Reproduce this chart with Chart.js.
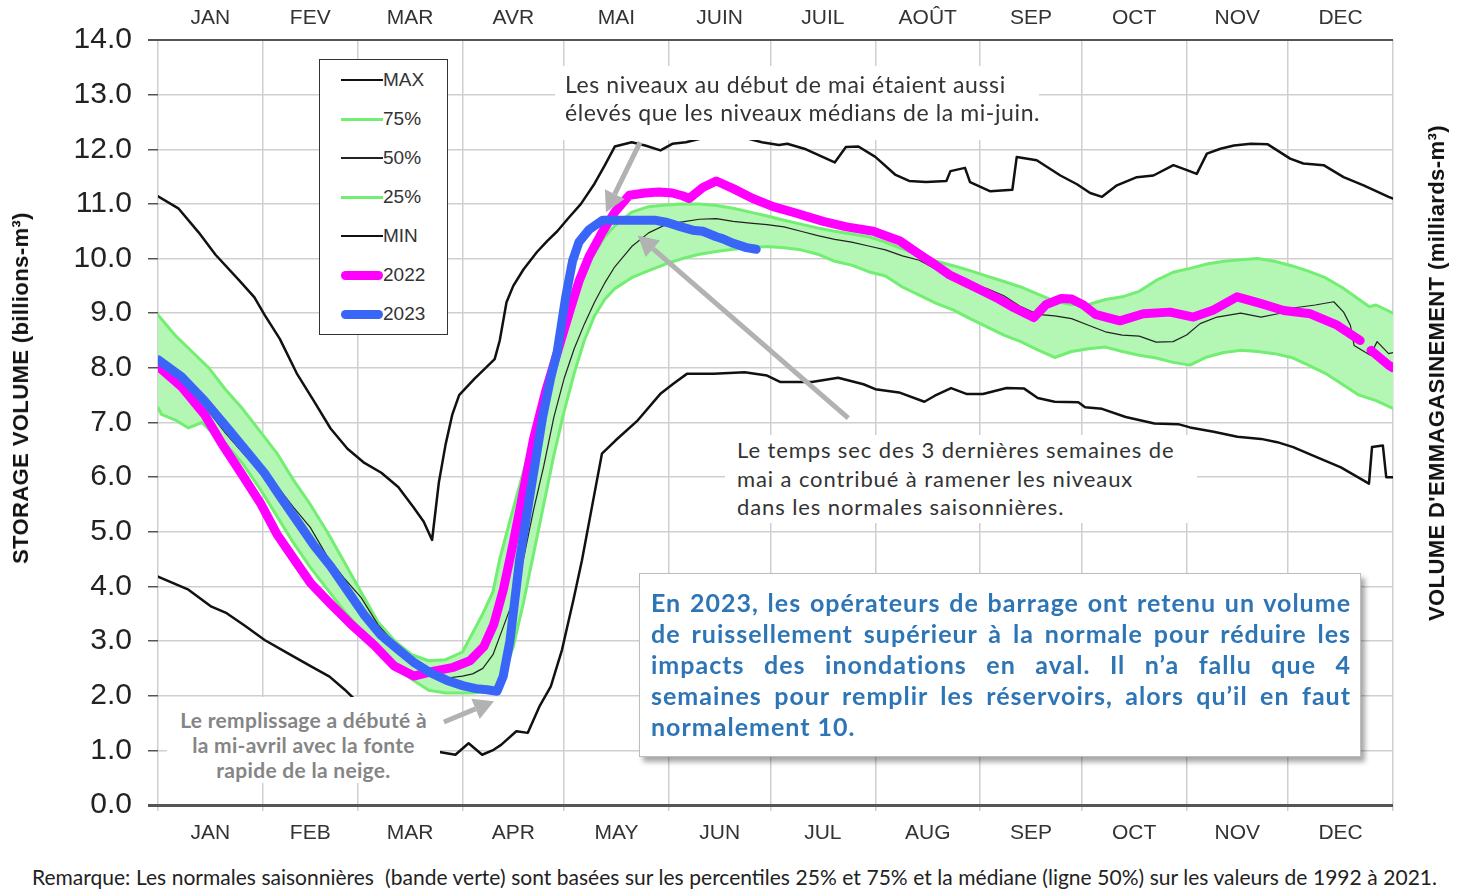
<!DOCTYPE html>
<html>
<head>
<meta charset="utf-8">
<script src="https://cdn.jsdelivr.net/npm/chart.js@4.4.1/dist/chart.umd.min.js"></script>
<style>
  body { margin: 0; background: #fff; }
  #wrap { position: relative; width: 1466px; height: 890px; overflow: hidden; font-family: 'Liberation Sans', Arial, sans-serif; }
  #chart { position: absolute; left: 0; top: 0; }
  .note { position: absolute; background: #fff; font-family: Lato, sans-serif; box-sizing: border-box; }
  .note div { white-space: nowrap; }
  .just { text-align: justify; text-align-last: justify; }
  .vt { position: absolute; transform: translate(-50%, -50%) rotate(-90deg); white-space: nowrap; font-weight: bold; font-size: 22px; letter-spacing: 0.4px; color: #111; }
  #legend { position: absolute; left: 319px; top: 59px; width: 129px; height: 276px; border: 1.5px solid #333; background: #fff; box-sizing: border-box; }
  .lg-row { position: absolute; left: 0; height: 0; }
  .lg-line { position: absolute; left: 21px; width: 42px; }
  .lg-text { position: absolute; left: 63px; top: -11px; font-size: 19px; color: #333; line-height: 22px; }
</style>
</head>
<body>
<div id="wrap">
  <canvas id="chart" width="1466" height="890"></canvas>

  <div class="vt" style="left:21px; top:388px;">STORAGE VOLUME (billions-m³)</div>
  <div class="vt" style="left:1437px; top:373px;">VOLUME D'EMMAGASINEMENT (milliards-m³)</div>

  <div id="legend"></div>

  <div class="note" style="left:555px; top:66px; width:484px; height:74px; padding:4px 0 0 10px; font-size:23px; letter-spacing:0.6px; line-height:28px; color:#333;">
    <div>Les niveaux au début de mai étaient aussi</div>
    <div>élevés que les niveaux médians de la mi-juin.</div>
  </div>

  <div class="note" style="left:725px; top:435px; width:472px; height:88px; padding:1px 0 0 12px; font-size:22px; letter-spacing:0.9px; line-height:28.5px; color:#333;">
    <div>Le temps sec des 3 dernières semaines de</div>
    <div>mai a contribué à ramener les niveaux</div>
    <div>dans les normales saisonnières.</div>
  </div>

  <div class="note" style="left:167px; top:697px; width:273px; height:86px; padding:10px 0 0 0; font-size:21px; letter-spacing:0.3px; line-height:25px; color:#858585; font-weight:bold; text-align:center;">
    <div>Le remplissage a débuté à</div>
    <div>la mi-avril avec la fonte</div>
    <div>rapide de la neige.</div>
  </div>

  <div class="note" style="left:639px; top:573px; width:722px; height:184px; padding:13px 0 0 11px; border:1px solid #bdbdbd; box-shadow:4px 5px 5px rgba(0,0,0,0.35); font-size:25px; letter-spacing:1px; line-height:31px; color:#2e75b6; font-weight:bold;">
    <div class="just" style="width:700px;">En 2023, les opérateurs de barrage ont retenu un volume</div>
    <div class="just" style="width:700px;">de ruissellement supérieur à la normale pour réduire les</div>
    <div class="just" style="width:700px;">impacts des inondations en aval. Il n’a fallu que 4</div>
    <div class="just" style="width:700px;">semaines pour remplir les réservoirs, alors qu’il en faut</div>
    <div>normalement 10.</div>
  </div>

  <div class="note just" style="left:32px; top:864px; width:1405px; white-space:nowrap; font-size:21px; line-height:26px; color:#222;">Remarque: Les normales saisonnières&nbsp; (bande verte) sont basées sur les percentiles 25% et 75% et la médiane (ligne 50%) sur les valeurs de 1992 à 2021.</div>
</div>

<script>
// day of year -> storage volume (billions m3)
const monthStarts = [0, 31, 59, 90, 120, 151, 181, 212, 243, 273, 304, 334, 365];
const monthsFr = ['JAN', 'FEV', 'MAR', 'AVR', 'MAI', 'JUIN', 'JUIL', 'AOÛT', 'SEP', 'OCT', 'NOV', 'DEC'];
const monthsEn = ['JAN', 'FEB', 'MAR', 'APR', 'MAY', 'JUN', 'JUL', 'AUG', 'SEP', 'OCT', 'NOV', 'DEC'];
const yTicks = [0, 1, 2, 3, 4, 5, 6, 7, 8, 9, 10, 11, 12, 13, 14];

const MAX = [[0,11.14],[6,10.92],[12,10.48],[17,10.07],[24,9.6],[28.5,9.29],[31.5,8.97],[36,8.53],[41,7.9],[46,7.4],[51,6.89],[56,6.52],[61,6.26],[66,6.08],[71,5.82],[75.5,5.45],[78.5,5.19],[81,4.85],[83,5.9],[85,6.6],[87,7.15],[89,7.5],[93.5,7.8],[97,8.01],[99.5,8.16],[101,8.5],[103,9.2],[105,9.5],[108,9.8],[112,10.12],[115,10.32],[118,10.5],[121,10.72],[125,11.0],[129,11.37],[132,11.7],[135,12.05],[140,12.13],[144,12.07],[148.5,11.98],[152,12.1],[156,12.13],[162,12.22],[168,12.25],[174,12.2],[178.5,12.13],[183.5,12.08],[186,12.1],[191.5,12.0],[200,11.76],[203.3,12.04],[207,12.05],[212,11.86],[218,11.53],[222,11.42],[227,11.4],[233,11.42],[234.2,11.6],[238.5,11.66],[240,11.4],[246,11.23],[252.5,11.26],[253.8,11.86],[259.7,11.8],[266.7,11.52],[271.6,11.36],[275.5,11.2],[279,11.13],[283.4,11.34],[289.3,11.49],[294.2,11.52],[300.1,11.71],[304.1,11.62],[307,11.55],[310,11.92],[314,12.01],[318,12.07],[323,12.1],[328,12.09],[334.6,11.83],[338.5,11.74],[344.5,11.71],[350.4,11.49],[356.3,11.34],[363.7,11.13],[365,11.1]];

const P75 = [[0,8.97],[5,8.6],[10,8.3],[15,8.0],[20,7.6],[25,7.25],[30,6.85],[35,6.45],[40,5.95],[45,5.5],[50,5.0],[55,4.45],[60,3.9],[65,3.35],[70,3.0],[75,2.75],[80,2.64],[85,2.66],[90,2.8],[93,3.15],[96,3.5],[99,3.9],[101,4.5],[104,5.2],[108,6.1],[111,6.8],[114,7.5],[117,8.1],[120,8.7],[123,9.3],[126,9.8],[129,10.1],[132,10.4],[135,10.6],[140,10.85],[145,10.95],[150,10.98],[155,11.0],[160,11.0],[165,10.97],[170,10.92],[175,10.85],[180,10.78],[185,10.7],[190,10.63],[195,10.56],[200,10.5],[205,10.45],[210,10.4],[215,10.3],[220,10.18],[225,10.05],[230,9.95],[235,9.87],[240,9.78],[245,9.68],[250,9.58],[255,9.48],[260,9.35],[265,9.22],[270,9.16],[275,9.16],[280,9.25],[285,9.3],[290,9.4],[295,9.6],[300,9.75],[305,9.82],[310,9.9],[315,9.95],[320,9.98],[325,10.0],[330,9.95],[335,9.87],[340,9.77],[345,9.65],[350,9.47],[355,9.25],[358,9.12],[360,9.15],[365,9.0]];

const P50 = [[0,8.2],[5,7.9],[10,7.6],[15,7.2],[20,6.8],[25,6.45],[30,6.1],[35,5.85],[40,5.45],[45,5.08],[50,4.55],[55,4.15],[60,3.8],[65,3.3],[70,2.95],[75,2.65],[80,2.4],[85,2.32],[90,2.36],[93,2.4],[96,2.5],[99,2.75],[102,3.25],[105,3.75],[108,4.5],[111,5.4],[114,6.2],[117,7.1],[120,7.8],[123,8.35],[126,8.8],[129,9.2],[132,9.55],[135,9.85],[140,10.22],[145,10.47],[150,10.62],[155,10.67],[160,10.72],[165,10.73],[170,10.68],[175,10.65],[180,10.62],[185,10.58],[190,10.5],[195,10.42],[200,10.35],[205,10.3],[210,10.23],[215,10.16],[220,10.05],[225,9.97],[230,9.8],[235,9.65],[240,9.55],[245,9.45],[250,9.32],[255,9.12],[260,8.98],[265,8.95],[270,8.9],[275,8.78],[280,8.66],[285,8.6],[290,8.58],[295,8.47],[300,8.48],[304,8.6],[308,8.81],[313,8.93],[320,9.0],[326,8.93],[331,8.99],[336,9.1],[342,9.15],[347.5,9.21],[350.4,9.02],[352.4,8.78],[353.5,8.41],[358.3,8.23],[360.3,8.48],[363.7,8.26],[365,8.28]];

const P25 = [[0,7.27],[1,7.15],[5,7.05],[9,6.9],[13,7.0],[17,6.75],[20,6.6],[25,6.25],[30,5.8],[35,5.3],[40,4.8],[45,4.35],[50,3.95],[55,3.55],[60,3.2],[65,2.85],[70,2.55],[75,2.3],[80,2.1],[85,2.05],[90,2.05],[93,2.05],[96,2.07],[99,2.12],[102,2.35],[105,2.9],[108,3.7],[111,4.6],[114,5.5],[117,6.4],[120,7.2],[123,7.9],[126,8.5],[129,8.95],[132,9.25],[135,9.45],[140,9.65],[145,9.78],[150,9.9],[155,10.0],[160,10.08],[165,10.13],[170,10.17],[175,10.2],[180,10.22],[185,10.2],[190,10.16],[195,10.08],[200,9.95],[205,9.88],[210,9.76],[215,9.68],[220,9.48],[225,9.33],[230,9.18],[235,9.06],[240,8.9],[245,8.75],[250,8.6],[255,8.48],[260,8.33],[265,8.19],[270,8.3],[275,8.35],[280,8.38],[285,8.3],[290,8.23],[295,8.18],[300,8.1],[305,8.05],[310,8.2],[315,8.28],[320,8.32],[325,8.3],[330,8.26],[335,8.19],[340,8.05],[345,7.9],[350,7.7],[355,7.5],[360,7.4],[365,7.26]];

const MIN = [[0,4.18],[9,3.94],[15.8,3.63],[20.3,3.51],[25.9,3.27],[31.5,3.02],[38.3,2.78],[45.1,2.54],[50.7,2.35],[55.2,2.11],[59.2,1.87],[65,1.6],[70,1.35],[76,1.1],[82.3,0.98],[87.9,0.92],[91.8,1.13],[95.8,0.92],[99.2,1.01],[101.4,1.1],[105.9,1.35],[109.3,1.32],[112.7,1.8],[116.1,2.17],[119.4,2.84],[122.8,3.76],[125.3,4.48],[128.6,5.57],[131.2,6.43],[135.2,6.67],[141.8,7.04],[148.4,7.52],[152.3,7.71],[156.3,7.89],[164.2,7.89],[173.4,7.92],[180,7.86],[184,7.74],[193.2,7.74],[201,7.82],[208.5,7.7],[212,7.61],[219,7.55],[226.5,7.38],[229.6,7.49],[234.4,7.63],[239.1,7.52],[243.8,7.52],[250.8,7.63],[256,7.62],[260,7.45],[265,7.38],[272,7.37],[274,7.28],[279,7.25],[286,7.1],[294.5,6.98],[301.5,6.97],[305,6.91],[312,6.83],[319,6.74],[326,6.7],[330.8,6.64],[335.5,6.55],[342.6,6.36],[349.6,6.18],[357.9,5.88],[358.8,6.55],[362,6.58],[363,6.0],[365,6.0]];

const Y2022 = [[0,8.03],[7,7.65],[13.7,7.15],[18.6,6.64],[24.5,6.08],[30.4,5.51],[35.3,4.94],[40.2,4.5],[45.1,4.06],[51,3.68],[57,3.31],[63.8,2.93],[69.7,2.55],[75.6,2.36],[81.5,2.45],[87.3,2.52],[92.2,2.64],[96.3,2.9],[99.2,3.3],[102.1,3.95],[105,4.8],[108,5.75],[111,6.7],[114.7,7.6],[118.6,8.4],[121.5,9.0],[124.5,9.6],[127.5,10.05],[131,10.45],[135,10.85],[139.3,11.16],[144,11.2],[148,11.22],[152,11.2],[155,11.15],[157,11.1],[161,11.3],[165,11.42],[170,11.28],[175.8,11.1],[181.8,10.95],[188.7,10.83],[196.6,10.68],[203.5,10.58],[211.4,10.5],[219.3,10.32],[225.2,10.07],[229.6,9.89],[234,9.7],[239,9.55],[243,9.43],[248.5,9.26],[253,9.1],[258.8,8.92],[262.5,9.16],[267,9.27],[270,9.26],[273.5,9.15],[277,8.98],[284.3,8.86],[291.2,8.99],[299.1,9.02],[306,8.93],[312,9.06],[318.9,9.3],[325.8,9.18],[332.7,9.05],[340.6,8.99],[348.5,8.78],[355.3,8.5],[356.5,null],[358.5,8.32],[363.7,8.05],[365,8.0]];

const Y2023 = [[0,8.15],[6.9,7.84],[13.7,7.4],[20.6,6.89],[26.5,6.45],[31.4,6.08],[36.3,5.63],[41.2,5.19],[46.1,4.75],[51,4.37],[55.9,3.93],[60.8,3.49],[65.7,3.12],[70.7,2.86],[75.6,2.61],[80.5,2.42],[85.4,2.28],[90.3,2.18],[94,2.13],[97.3,2.11],[100.2,2.08],[102,2.35],[104,3.0],[106.9,4.5],[109.8,5.62],[113.7,7.11],[116,7.8],[118,8.3],[120.5,9.3],[122.5,9.95],[124.4,10.3],[127.4,10.53],[131.4,10.7],[139.3,10.7],[147.2,10.7],[150.5,10.66],[154.1,10.59],[158,10.52],[161,10.5],[165,10.4],[167,10.36],[170,10.28],[173.9,10.2],[176.8,10.17]];

// annotation arrows: [fromDay, fromValue, toDay, toValue]
const ARROWS = [
    [142.5, 12.13, 132.4, 10.85],
    [204, 7.08, 141.8, 10.42],
    [84.5, 1.52, 99.3, 1.9]
];

const GREEN_LINE = '#72ee72';
const GREEN_FILL = '#b4f6b4';
const GRID = '#cfcfcf';

function pts(arr) {
    return arr.map(([x, y]) => ({ x, y }));
}

const datasets = [
    { label: 'MAX', data: pts(MAX), borderColor: '#111', borderWidth: 2.5, order: 2 },
    { label: '75%', data: pts(P75), borderColor: GREEN_LINE, borderWidth: 3, order: 4, fill: 3, backgroundColor: GREEN_FILL },
    { label: '50%', data: pts(P50), borderColor: '#222', borderWidth: 1.2, order: 3 },
    { label: '25%', data: pts(P25), borderColor: GREEN_LINE, borderWidth: 3, order: 4 },
    { label: 'MIN', data: pts(MIN), borderColor: '#111', borderWidth: 2.5, order: 2 },
    { label: '2022', data: pts(Y2022), borderColor: '#ff00ff', borderWidth: 9, order: 1 },
    { label: '2023', data: pts(Y2023), borderColor: '#3a66f8', borderWidth: 9, order: 0 }
];
datasets.forEach(d => {
    d.pointRadius = 0;
    d.tension = 0;
    d.borderCapStyle = 'round';
    d.borderJoinStyle = 'round';
    d.spanGaps = false;
    if (d.fill === undefined) d.fill = false;
});

const mids = monthStarts.slice(0, 12).map((s, i) => (s + monthStarts[i + 1]) / 2);

const arrowPlugin = {
    id: 'arrows',
    afterDatasetsDraw(chart) {
        const { ctx } = chart;
        const x = chart.scales.x, y = chart.scales.y;
        ctx.save();
        ctx.strokeStyle = '#b2b2b2';
        ctx.fillStyle = '#b2b2b2';
        ctx.lineWidth = 5;
        ARROWS.forEach(([d0, v0, d1, v1]) => {
            const x0 = x.getPixelForValue(d0), y0 = y.getPixelForValue(v0);
            const x1 = x.getPixelForValue(d1), y1 = y.getPixelForValue(v1);
            const a = Math.atan2(y1 - y0, x1 - x0);
            const head = 20, half = 11;
            const bx = x1 - head * Math.cos(a), by = y1 - head * Math.sin(a);
            ctx.beginPath();
            ctx.moveTo(x0, y0);
            ctx.lineTo(bx, by);
            ctx.stroke();
            ctx.beginPath();
            ctx.moveTo(x1, y1);
            ctx.lineTo(bx + half * Math.sin(a), by - half * Math.cos(a));
            ctx.lineTo(bx - half * Math.sin(a), by + half * Math.cos(a));
            ctx.closePath();
            ctx.fill();
        });
        ctx.restore();
    }
};

const isBoundary = v => monthStarts.includes(v);

const chart = new Chart(document.getElementById('chart').getContext('2d'), {
    type: 'line',
    data: { datasets },
    plugins: [arrowPlugin],
    options: {
        responsive: false,
        animation: false,
        events: [],
        devicePixelRatio: 1,
        layout: { padding: { left: 0, right: 73, top: 0, bottom: 0 } },
        plugins: {
            legend: { display: false },
            tooltip: { enabled: false },
            filler: { drawTime: 'beforeDatasetsDraw' }
        },
        scales: {
            x: {
                type: 'linear',
                position: 'bottom',
                min: 0,
                max: 365,
                afterBuildTicks: s => { s.ticks = monthStarts.concat(mids).sort((a, b) => a - b).map(v => ({ value: v })); },
                afterFit: s => { s.height = 85; },
                border: { display: false },
                grid: {
                    color: c => isBoundary(c.tick.value) ? GRID : 'rgba(0,0,0,0)',
                    tickColor: c => isBoundary(c.tick.value) ? GRID : 'rgba(0,0,0,0)',
                    lineWidth: 1.5,
                    tickLength: 6
                },
                ticks: {
                    autoSkip: false,
                    maxRotation: 0,
                    padding: 10,
                    color: '#333',
                    font: { family: "'Liberation Sans', Arial", size: 21 },
                    callback: v => { const i = mids.indexOf(v); return i >= 0 ? monthsEn[i] : ''; }
                }
            },
            xTop: {
                type: 'linear',
                position: 'top',
                min: 0,
                max: 365,
                afterBuildTicks: s => { s.ticks = mids.map(v => ({ value: v })); },
                afterFit: s => { s.height = 40; },
                border: { display: false },
                grid: { display: false, drawTicks: false },
                ticks: {
                    autoSkip: false,
                    maxRotation: 0,
                    padding: 9,
                    color: '#333',
                    font: { family: "'Liberation Sans', Arial", size: 21 },
                    callback: v => monthsFr[mids.indexOf(v)]
                }
            },
            y: {
                min: 0,
                max: 14,
                afterBuildTicks: s => { s.ticks = yTicks.map(v => ({ value: v })); },
                afterFit: s => { s.width = 158; },
                border: { display: false },
                grid: {
                    color: c => c.tick.value === 14 ? '#555' : (c.tick.value === 0 ? '#555' : GRID),
                    lineWidth: c => c.tick.value === 0 ? 3 : (c.tick.value === 14 ? 2 : 1.5),
                    tickColor: '#555',
                    tickLength: 10
                },
                ticks: {
                    padding: 16,
                    color: '#222',
                    font: { family: "'Liberation Sans', Arial", size: 30 },
                    callback: v => v.toFixed(1)
                }
            }
        }
    }
});

// legend box built from the datasets
const legend = document.getElementById('legend');
chart.data.datasets.forEach((d, i) => {
    const row = document.createElement('div');
    row.className = 'lg-row';
    row.style.top = (20 + i * 39) + 'px';
    const line = document.createElement('div');
    line.className = 'lg-line';
    const w = Math.max(d.borderWidth, 1.5);
    line.style.height = w + 'px';
    line.style.top = (-w / 2) + 'px';
    line.style.background = d.borderColor;
    if (d.borderWidth > 5) line.style.borderRadius = w + 'px';
    const txt = document.createElement('div');
    txt.className = 'lg-text';
    txt.textContent = d.label;
    row.appendChild(line);
    row.appendChild(txt);
    legend.appendChild(row);
});
</script>
</body>
</html>
